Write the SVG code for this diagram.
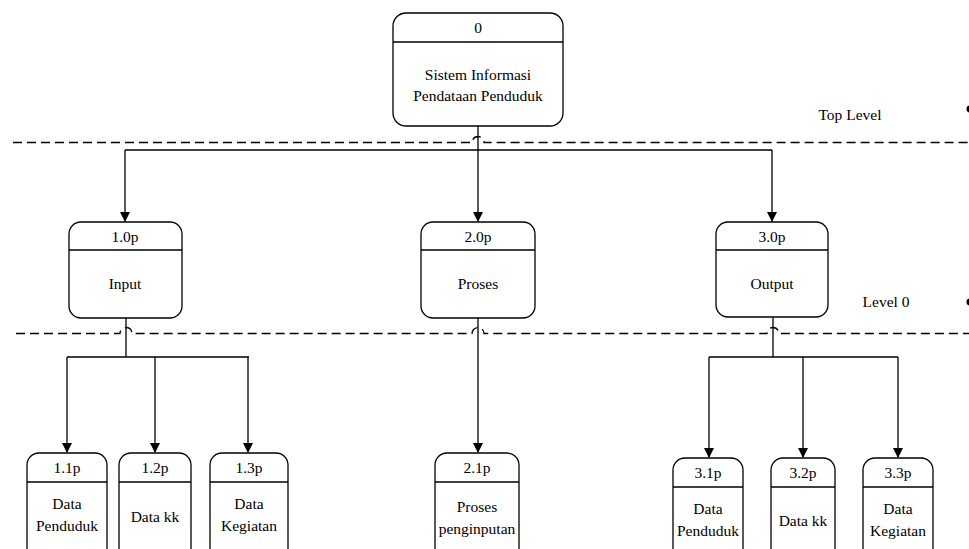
<svg xmlns="http://www.w3.org/2000/svg" width="969" height="549" viewBox="0 0 969 549">
<style>
.box{fill:#fff;stroke:#000;stroke-width:1.3}
.div{stroke:#000;stroke-width:1.3}
.t{font-family:"Liberation Serif","Times New Roman",serif;font-size:15.5px;fill:#000;text-anchor:middle}
.c{fill:none;stroke:#000;stroke-width:1.3}
.dash{fill:none;stroke:#000;stroke-width:1.3;stroke-dasharray:9 5}
</style>
<defs>
<marker id="ah" markerWidth="10" markerHeight="10" refX="9" refY="5" orient="auto" markerUnits="userSpaceOnUse">
<path d="M0,0 L10,5 L0,10 z" fill="#000"/>
</marker>
</defs>
<g id="levels">
<path class="dash" d="M13 142.5 H472 a6 6 0 0 1 12 0 H969"/>
<path class="dash" d="M16 333.5 H120 a6 6 0 0 1 12 0 H472 a6 6 0 0 1 12 0 H767 a6 6 0 0 1 12 0 H969"/>
<text class="t" x="850" y="120">Top Level</text>
<text class="t" x="886" y="307">Level 0</text>
<circle cx="970" cy="109" r="3.5" fill="#000"/>
<circle cx="970" cy="302" r="3.5" fill="#000"/>
</g>
<g id="connectors">
<path class="c" d="M478 126 V221" marker-end="url(#ah)"/>
<path class="c" d="M125 150 H772"/>
<path class="c" d="M125 150 V221" marker-end="url(#ah)"/>
<path class="c" d="M772 150 V221" marker-end="url(#ah)"/>
<path class="c" d="M126 318 V357 M67 357 H249"/>
<path class="c" d="M67 357 V452" marker-end="url(#ah)"/>
<path class="c" d="M155 357 V452" marker-end="url(#ah)"/>
<path class="c" d="M248 357 V452" marker-end="url(#ah)"/>
<path class="c" d="M478 318 V452" marker-end="url(#ah)"/>
<path class="c" d="M773 318 V357 M709 357 H898"/>
<path class="c" d="M709 357 V457" marker-end="url(#ah)"/>
<path class="c" d="M803 357 V457" marker-end="url(#ah)"/>
<path class="c" d="M898 357 V457" marker-end="url(#ah)"/>
</g>
<g id="n0">
<rect class="box" x="393" y="13" width="170" height="113" rx="13"/>
<line class="div" x1="393" y1="42" x2="563" y2="42"/>
<text class="t" x="478" y="33">0</text>
<text class="t" x="478" y="80">Sistem Informasi</text>
<text class="t" x="478" y="101">Pendataan Penduduk</text>
</g>
<g id="n1">
<rect class="box" x="69" y="222" width="113" height="96" rx="12"/>
<line class="div" x1="69" y1="250" x2="182" y2="250"/>
<text class="t" x="125" y="242">1.0p</text>
<text class="t" x="125" y="289">Input</text>
</g>
<g id="n2">
<rect class="box" x="421" y="222" width="114" height="96" rx="12"/>
<line class="div" x1="421" y1="250" x2="535" y2="250"/>
<text class="t" x="478" y="242">2.0p</text>
<text class="t" x="478" y="289">Proses</text>
</g>
<g id="n3">
<rect class="box" x="716" y="222" width="112" height="95" rx="12"/>
<line class="div" x1="716" y1="250" x2="828" y2="250"/>
<text class="t" x="772" y="242">3.0p</text>
<text class="t" x="772" y="289">Output</text>
</g>
<g id="n11">
<rect class="box" x="27" y="453" width="80" height="110" rx="12"/>
<line class="div" x1="27" y1="482" x2="107" y2="482"/>
<text class="t" x="67" y="473">1.1p</text>
<text class="t" x="67" y="509">Data</text>
<text class="t" x="67" y="531">Penduduk</text>
</g>
<g id="n12">
<rect class="box" x="119" y="453" width="72" height="110" rx="12"/>
<line class="div" x1="119" y1="482" x2="191" y2="482"/>
<text class="t" x="155" y="473">1.2p</text>
<text class="t" x="155" y="522">Data kk</text>
</g>
<g id="n13">
<rect class="box" x="210" y="453" width="78" height="110" rx="12"/>
<line class="div" x1="210" y1="482" x2="288" y2="482"/>
<text class="t" x="249" y="473">1.3p</text>
<text class="t" x="249" y="509">Data</text>
<text class="t" x="249" y="531">Kegiatan</text>
</g>
<g id="n21">
<rect class="box" x="435" y="453" width="84" height="110" rx="12"/>
<line class="div" x1="435" y1="482" x2="519" y2="482"/>
<text class="t" x="477" y="473">2.1p</text>
<text class="t" x="477" y="512">Proses</text>
<text class="t" x="477" y="534">penginputan</text>
</g>
<g id="n31">
<rect class="box" x="673" y="458" width="70" height="105" rx="12"/>
<line class="div" x1="673" y1="487" x2="743" y2="487"/>
<text class="t" x="708" y="478">3.1p</text>
<text class="t" x="708" y="514">Data</text>
<text class="t" x="708" y="536">Penduduk</text>
</g>
<g id="n32">
<rect class="box" x="771" y="458" width="64" height="105" rx="12"/>
<line class="div" x1="771" y1="487" x2="835" y2="487"/>
<text class="t" x="803" y="478">3.2p</text>
<text class="t" x="803" y="526">Data kk</text>
</g>
<g id="n33">
<rect class="box" x="863" y="458" width="70" height="105" rx="12"/>
<line class="div" x1="863" y1="487" x2="933" y2="487"/>
<text class="t" x="898" y="478">3.3p</text>
<text class="t" x="898" y="514">Data</text>
<text class="t" x="898" y="536">Kegiatan</text>
</g>
</svg>
